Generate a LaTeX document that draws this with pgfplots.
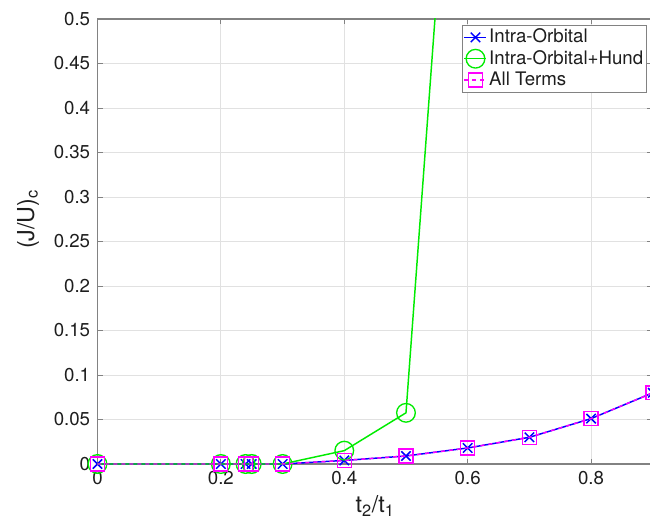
\documentclass[border=0pt]{standalone}
\usepackage{fontspec}
\setmainfont{TeX Gyre Heros}
\usepackage{pgfplots}
\pgfplotsset{compat=1.18}
\definecolor{axgray}{RGB}{130,130,130}
\definecolor{gridgray}{RGB}{225,225,225}
\definecolor{txt}{RGB}{30,30,30}
\definecolor{mgreen}{RGB}{0,235,0}
\definecolor{mblue}{RGB}{0,0,255}
\definecolor{mmag}{RGB}{255,0,255}
\newcommand{\ff}{\fontsize{14}{16.8}\selectfont}
\newcommand{\fl}{\fontsize{17.5}{21}\selectfont}
\begin{document}
\begin{tikzpicture}
\useasboundingbox (-73.1pt,-42.75pt) rectangle (414.4pt,348pt);
\clip (-73.1pt,-42.75pt) rectangle (414.4pt,348pt);
\begin{axis}[
  scale only axis,
  width=416.5pt, height=333.75pt,
  xmin=0, xmax=0.9, ymin=0, ymax=0.5,
  xtick={0,0.2,0.4,0.6,0.8},
  ytick={0,0.05,0.1,0.15,0.2,0.25,0.3,0.35,0.4,0.45,0.5},
  font=\ff,
  /pgf/number format/assume math mode=true,
  yticklabel style={font=\ff, /pgf/number format/fixed,/pgf/number format/precision=2, xshift=-2pt, text=txt},
  xticklabel style={font=\ff, /pgf/number format/fixed, yshift=-2pt, text=txt},
  tick align=inside,
  major tick length=4pt,
  tick style={axgray, line width=0.6pt},
  axis line style={axgray, line width=0.8pt},
  grid=major,
  grid style={gridgray, line width=0.6pt},
  xlabel={t\textsubscript{2}/t\textsubscript{1}},
  ylabel={(J/U)\textsubscript{c}},
  xlabel style={font=\fl, at={(axis description cs:0.5,0)}, anchor=base, yshift=-36.5pt, text=txt},
  ylabel style={font=\fl, at={(axis description cs:-0.125,0.55)}, anchor=center, text=txt},
  clip mode=individual,
  legend cell align=left,
  legend style={at={(axis description cs:1,1)}, anchor=north east, xshift=-4.4pt, yshift=-4.5pt,
    draw=axgray, line width=0.6pt, inner sep=1pt, row sep=0pt,
    font=\ff,
    nodes={text height=10.5pt, text depth=2.5pt, inner sep=1.5pt, text=txt}},
  legend image code/.code={\draw[mark indices={2}] plot coordinates {(0pt,0pt) (8.25pt,0pt) (16.5pt,0pt)};},
]
\addplot[mblue, line width=1.1pt, mark=x, mark size=5pt, mark options={solid, line width=1.1pt}] coordinates {
(0,0) (0.2,0) (0.24,0) (0.25,0) (0.3,0) (0.4,0.004) (0.5,0.009) (0.6,0.018) (0.7,0.030) (0.8,0.051) (0.9,0.080)};
\addlegendentry{Intra-Orbital}
\addplot[mgreen, line width=1.1pt, mark=o, mark size=7pt, mark indices={1,2,3,4,5,6,7}, mark options={solid, line width=1pt}] coordinates {
(0,0) (0.2,0) (0.24,0) (0.25,0) (0.3,0) (0.4,0.015) (0.5,0.0575) (0.6,1.0)};
\addlegendentry{Intra-Orbital+Hund}
\addplot[mmag, line width=1.1pt, dashed, mark=square, mark size=5.2pt, mark options={solid, line width=1pt}] coordinates {
(0,0) (0.2,0) (0.24,0) (0.25,0) (0.3,0) (0.4,0.004) (0.5,0.009) (0.6,0.018) (0.7,0.030) (0.8,0.051) (0.9,0.080)};
\addlegendentry{All Terms}
\end{axis}
\end{tikzpicture}
\end{document}
